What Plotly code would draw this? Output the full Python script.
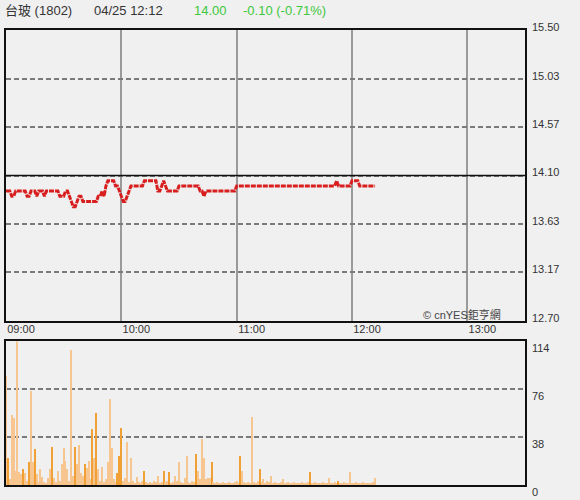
import pandas as pd
import plotly.graph_objects as go

# ---------------- data ----------------
stock_name = "台玻 (1802)"
quote_time = "04/25 12:12"
last_price = "14.00"
change_text = "-0.10 (-0.71%)"
prev_close = 14.10
session_start = "2024-04-25 09:00"
session_end = "2024-04-25 13:30"

price_ticks = [12.70, 13.17, 13.63, 14.10, 14.57, 15.03, 15.50]
volume_ticks = [0, 38, 76, 114]

# per-minute last price, 09:00 .. 12:12
price = [
    13.95, 13.95, 13.95, 13.90, 13.90, 13.95, 13.95, 13.95, 13.95, 13.95,
    13.95, 13.90, 13.90, 13.95, 13.95, 13.95, 13.90, 13.95, 13.95, 13.95,
    13.90, 13.95, 13.95, 13.95, 13.95, 13.95, 13.95, 13.95, 13.90, 13.90,
    13.90, 13.95, 13.95, 13.90, 13.85, 13.80, 13.80, 13.85, 13.90, 13.90,
    13.85, 13.85, 13.85, 13.85, 13.85, 13.85, 13.85, 13.85, 13.90, 13.90,
    13.95, 13.90, 14.00, 14.05, 14.05, 14.05, 14.05, 14.00, 14.00, 13.95,
    13.90, 13.85, 13.85, 13.90, 13.95, 14.00, 14.00, 14.00, 14.00, 14.00,
    14.00, 14.00, 14.05, 14.05, 14.05, 14.05, 14.05, 14.05, 14.05, 13.95,
    13.95, 14.00, 14.05, 14.00, 13.95, 13.95, 13.95, 13.95, 13.95, 13.95,
    14.00, 14.00, 14.00, 14.00, 14.00, 14.00, 14.00, 14.00, 14.00, 14.00,
    14.00, 13.95, 13.95, 13.90, 13.95, 13.95, 13.95, 13.95, 13.95, 13.95,
    13.95, 13.95, 13.95, 13.95, 13.95, 13.95, 13.95, 13.95, 13.95, 13.95,
    14.00, 14.00, 14.00, 14.00, 14.00, 14.00, 14.00, 14.00, 14.00, 14.00,
    14.00, 14.00, 14.00, 14.00, 14.00, 14.00, 14.00, 14.00, 14.00, 14.00,
    14.00, 14.00, 14.00, 14.00, 14.00, 14.00, 14.00, 14.00, 14.00, 14.00,
    14.00, 14.00, 14.00, 14.00, 14.00, 14.00, 14.00, 14.00, 14.00, 14.00,
    14.00, 14.00, 14.00, 14.00, 14.00, 14.00, 14.00, 14.00, 14.00, 14.00,
    14.00, 14.00, 14.05, 14.00, 14.00, 14.00, 14.00, 14.00, 14.00, 14.00,
    14.05, 14.05, 14.05, 14.05, 14.00, 14.00, 14.00, 14.00, 14.00, 14.00,
    14.00, 14.00, 14.00,
]

# per-minute volume (lots), 09:00 .. 12:12
volume = [
    86, 21, 4, 55, 53, 11, 114, 10, 8, 12,
    9, 3, 18, 74, 18, 28, 8, 2, 12, 6,
    2, 1, 5, 12, 30, 5, 2, 11, 3, 16,
    29, 19, 12, 3, 107, 7, 30, 16, 31, 9,
    7, 16, 13, 19, 4, 44, 21, 57, 12, 3,
    14, 2, 4, 18, 68, 29, 4, 2, 9, 23,
    45, 3, 5, 34, 2, 21, 3, 1, 6, 2,
    1, 3, 11, 2, 1, 2, 1, 3, 2, 7,
    1, 2, 11, 2, 3, 10, 1, 2, 7, 3,
    18, 2, 1, 5, 23, 2, 1, 3, 2, 24,
    11, 4, 36, 21, 4, 5, 5, 18, 2, 1,
    2, 1, 1, 2, 1, 1, 2, 1, 1, 2,
    3, 1, 23, 11, 2, 1, 2, 1, 54, 2,
    1, 3, 12, 2, 4, 1, 3, 2, 7, 1,
    2, 1, 1, 2, 4, 1, 1, 2, 1, 1,
    2, 1, 1, 1, 2, 1, 1, 2, 10, 1,
    1, 2, 1, 1, 1, 2, 1, 1, 5, 1,
    1, 2, 1, 3, 1, 1, 2, 1, 1, 10,
    1, 1, 2, 1, 1, 1, 2, 1, 1, 1,
    1, 2, 5,
]

# minutes (index from 09:00) whose bar is drawn in the darker orange
dark_minutes = [1, 9, 12, 15, 24, 36, 41, 45, 47, 58, 59, 60, 72, 82, 85,
                99, 107, 122, 132, 158, 173]

# ---------------- styling ----------------
BG = "#f0f0f0"
FONT = "Liberation Sans, Arial, Noto Sans CJK TC, sans-serif"
LIGHT = "#f7c590"
DARK = "#f0a035"

times = pd.date_range(session_start, periods=len(price), freq="min")
bar_colors = [DARK if i in dark_minutes else LIGHT for i in range(len(volume))]

fig = go.Figure()
fig.add_trace(go.Scatter(
    x=times, y=price, mode="lines", xaxis="x", yaxis="y",
    line=dict(color="#d81e1e", width=3, dash="5px,1px"),
    hoverinfo="skip",
))
fig.add_trace(go.Bar(
    x=times, y=volume, xaxis="x2", yaxis="y2",
    marker=dict(color=bar_colors, line=dict(width=0)),
    width=60000 * 0.65,
    hoverinfo="skip",
))

axis_common = dict(
    showline=True, mirror=True, linecolor="#111", linewidth=1.5,
    zeroline=False, ticks="", automargin=False,
    tickfont=dict(family=FONT, size=11, color="#333"),
)

fig.update_layout(
    width=580, height=500,
    paper_bgcolor=BG, plot_bgcolor=BG,
    margin=dict(l=6, r=55, t=30, b=15),
    showlegend=False,
    bargap=0,
    xaxis=dict(
        axis_common, domain=[0, 1], anchor="y",
        type="date", range=[session_start, session_end],
        dtick=3600000, tick0=session_start, tickformat="%H:%M",
        showgrid=True, gridcolor="#9a9a9a", gridwidth=1.5,
        ticklabelshift=15, ticklabelstandoff=-3,
    ),
    yaxis=dict(
        axis_common, domain=[0.3604, 1], anchor="x", side="right",
        range=[price_ticks[0], price_ticks[-1]],
        tickvals=price_ticks, ticktext=[f"{v:.2f}" for v in price_ticks],
        showgrid=True, gridcolor="#7a7a7a", gridwidth=2, griddash="5px,3px",
        ticklabelshift=-3, ticklabelstandoff=3,
    ),
    xaxis2=dict(
        axis_common, domain=[0, 1], anchor="y2",
        type="date", range=[session_start, session_end],
        showgrid=False, showticklabels=False,
    ),
    yaxis2=dict(
        axis_common, domain=[0, 0.3154], anchor="x2", side="right",
        range=[volume_ticks[0], volume_ticks[-1]],
        tickvals=volume_ticks,
        showgrid=True, gridcolor="#7a7a7a", gridwidth=2, griddash="5px,3px",
        ticklabelshift=7, ticklabelstandoff=3,
    ),
)

# previous close reference line
fig.add_shape(type="line", xref="x domain", yref="y", x0=0, x1=1,
              y0=prev_close, y1=prev_close, line=dict(color="#111", width=1.5))

# header
header = [
    (stock_name, 3, "#333"),
    (quote_time, 92, "#333"),
    (last_price, 192, "#3cc83c"),
    (change_text, 241, "#3cc83c"),
]
for txt, xp, col in header:
    fig.add_annotation(text=txt, xref="paper", yref="paper",
                       x=(xp - 6) / 519, y=(500 - 15 - 11) / 455,
                       xanchor="left", yanchor="middle", showarrow=False,
                       font=dict(family=FONT, size=13, color=col))

# watermark
fig.add_annotation(text="© cnYES鉅亨網", xref="paper", yref="paper",
                   x=(503 - 6) / 519, y=(500 - 15 - 314) / 455,
                   xanchor="right", yanchor="middle", showarrow=False,
                   font=dict(family=FONT, size=11, color="#444"))

fig.write_html(
    "out.html",
    config={"displayModeBar": False},
    post_script="document.body.style.margin='0px';document.body.style.background='#f0f0f0';",
)
